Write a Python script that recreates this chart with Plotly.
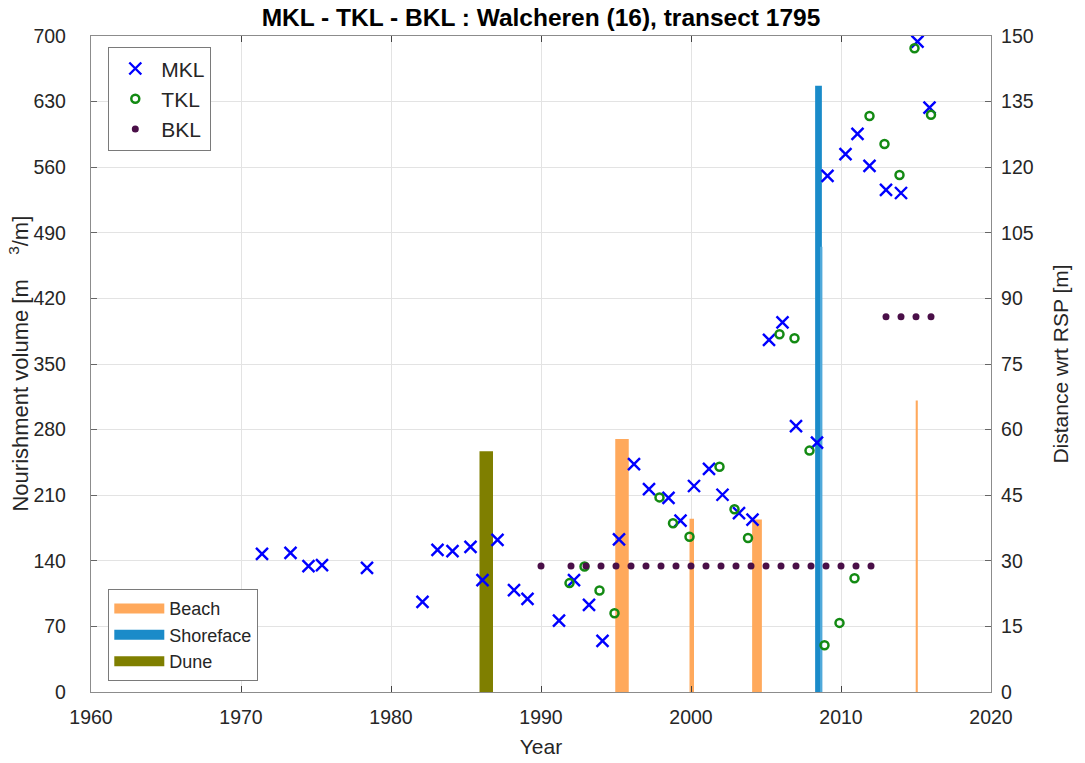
import plotly.graph_objects as go

# Coastline positions (distance wrt RSP, metres)
mkl_year = [1971.4, 1973.3, 1974.5, 1975.4, 1978.4, 1982.1, 1983.1, 1984.1, 1985.3, 1986.1,
            1987.1, 1988.2, 1989.1, 1991.2, 1992.2, 1993.2, 1994.1, 1995.2, 1996.2, 1997.2,
            1998.5, 1999.3, 2000.2, 2001.2, 2002.1, 2003.2, 2004.1, 2005.2, 2006.1, 2007.0,
            2008.4, 2009.1, 2010.3, 2011.1, 2011.9, 2013.0, 2014.0, 2015.1, 2015.9]
mkl_dist = [31.6, 31.8, 28.8, 29.0, 28.4, 20.6, 32.5, 32.2, 33.2, 25.6,
            34.8, 23.3, 21.3, 16.3, 25.6, 19.9, 11.7, 34.9, 52.1, 46.4,
            44.4, 39.2, 47.1, 51.0, 45.1, 40.9, 39.4, 80.5, 84.5, 60.8,
            57.0, 118.0, 123.0, 127.6, 120.3, 114.8, 114.1, 148.7, 133.6]

tkl_year = [1991.9, 1992.9, 1993.9, 1994.9, 1997.9, 1998.8, 1999.9, 2001.9, 2002.9, 2003.8,
            2005.9, 2006.9, 2007.9, 2008.9, 2009.9, 2010.9, 2011.9, 2012.9, 2013.9, 2014.9,
            2016.0]
tkl_dist = [24.9, 28.7, 23.2, 18.0, 44.5, 38.6, 35.5, 51.5, 41.8, 35.2,
            81.8, 80.9, 55.2, 10.7, 15.8, 26.0, 131.7, 125.3, 118.2, 147.2,
            132.0]

bkl_year = [1990, 1992, 1993, 1994, 1995, 1996, 1997, 1998, 1999, 2000, 2001, 2002,
            2003, 2004, 2005, 2006, 2007, 2008, 2009, 2010, 2011, 2012,
            2013, 2014, 2015, 2016]
bkl_dist = [28.8] * 22 + [85.8] * 4

# Nourishments (volume m3/m), centre year and duration in years
beach_year = [1995.4, 2000.05, 2004.4, 2015.05]
beach_vol = [270, 185, 184, 311]
beach_dur = [0.9, 0.3, 0.65, 0.14]

shore_year = [2008.5]
shore_vol = [647]
shore_dur = [0.45]
shore2_year = [2008.68]
shore2_vol = [475]
shore2_dur = [0.16]

dune_year = [1986.35]
dune_vol = [257]
dune_dur = [0.9]

BEACH = "#FFA95C"
SHORE = "#1A8BC9"
DUNE = "#7F7F00"
FONT = "Liberation Sans, Arial, sans-serif"
TXT = "#262626"
GRID = "#E3E3E3"
AX = "#8C8C8C"

fig = go.Figure()

# bars on the volume axis
fig.add_trace(go.Bar(x=beach_year, y=beach_vol, width=beach_dur, marker_color=BEACH,
                     marker_line_width=0, showlegend=False, name="Beach"))
fig.add_trace(go.Bar(x=shore_year, y=shore_vol, width=shore_dur, marker_color=SHORE,
                     marker_line_width=0, showlegend=False, name="Shoreface"))
fig.add_trace(go.Bar(x=shore2_year, y=shore2_vol, width=shore2_dur, marker_color="#4FA9DA",
                     marker_line_width=0, showlegend=False, name="Shoreface"))
fig.add_trace(go.Bar(x=dune_year, y=dune_vol, width=dune_dur, marker_color=DUNE,
                     marker_line_width=0, showlegend=False, name="Dune"))

# legend swatches for nourishment types
for nm, col in [("Beach", BEACH), ("Shoreface", SHORE), ("Dune", DUNE)]:
    fig.add_trace(go.Scatter(x=[None], y=[None], mode="lines", name=nm,
                             line=dict(color=col, width=17), legend="legend2"))

# coastline indicators on the distance axis
fig.add_trace(go.Scatter(x=mkl_year, y=mkl_dist, yaxis="y2", mode="markers", name="MKL",
                         marker=dict(symbol="x-thin", size=12, color="#0000FF",
                                     line=dict(color="#0000FF", width=2.4)),
                         cliponaxis=False, legend="legend"))
fig.add_trace(go.Scatter(x=tkl_year, y=tkl_dist, yaxis="y2", mode="markers", name="TKL",
                         marker=dict(symbol="circle-open", size=8, color="#138A13",
                                     line=dict(color="#138A13", width=2.5)),
                         cliponaxis=False, legend="legend"))
fig.add_trace(go.Scatter(x=bkl_year, y=bkl_dist, yaxis="y2", mode="markers", name="BKL",
                         marker=dict(symbol="circle", size=7, color="#4A0F48"),
                         cliponaxis=False, legend="legend"))

# left axis title placed close to its tick labels
fig.add_annotation(text="Nourishment volume [m&nbsp;&nbsp;&nbsp;&nbsp;<sup>3</sup>/m]",
                   xref="paper", yref="paper", x=-0.0805, y=0.5,
                   xanchor="center", yanchor="middle", textangle=-90,
                   showarrow=False, font=dict(family=FONT, size=22, color=TXT))

fig.update_layout(
    width=1085, height=763,
    margin=dict(l=91, r=94, t=36, b=71, autoexpand=False),
    paper_bgcolor="white", plot_bgcolor="white",
    font=dict(family=FONT, size=19.5, color=TXT),
    barmode="overlay",
    title=dict(text="<b>MKL - TKL - BKL : Walcheren (16), transect 1795</b>",
               x=0.5, xref="paper", xanchor="center", y=0.977, yanchor="middle",
               font=dict(family=FONT, size=24.5, color="#000000")),
    xaxis=dict(range=[1960, 2020], dtick=10, tick0=1960, showgrid=True, gridcolor=GRID,
               gridwidth=1, zeroline=False, showline=True, linecolor=AX, linewidth=1.3,
               mirror="ticks", ticks="inside", ticklen=6, tickcolor="#444",
               ticklabelstandoff=7, automargin=False,
               title=dict(text="Year", font=dict(size=21), standoff=12),
               tickfont=dict(size=19.5)),
    yaxis=dict(range=[0, 700], dtick=70, tick0=0, showgrid=True, gridcolor=GRID,
               zeroline=False, showline=True, linecolor=AX, linewidth=1.3,
               ticks="inside", ticklen=6, tickcolor="#666",
               ticklabelstandoff=20, automargin=False,
               tickfont=dict(size=19.5)),
    yaxis2=dict(range=[0, 150], dtick=15, tick0=0, overlaying="y", side="right",
                showgrid=False, zeroline=False, showline=True, linecolor=AX, linewidth=1.3,
                ticks="inside", ticklen=6, tickcolor="#666",
                ticklabelstandoff=5, automargin=False,
                title=dict(text="Distance wrt RSP [m]", font=dict(size=21), standoff=20),
                tickfont=dict(size=19.5)),
    legend=dict(x=0.019, y=0.983, xanchor="left", yanchor="top",
                bgcolor="white", bordercolor="#7A7A7A", borderwidth=1.2,
                font=dict(size=21, color=TXT), itemwidth=42,
                tracegroupgap=0, traceorder="normal"),
    legend2=dict(x=0.019, y=0.157, xanchor="left", yanchor="top",
                 bgcolor="white", bordercolor="#7A7A7A", borderwidth=1.2,
                 font=dict(size=18, color=TXT), itemwidth=50,
                 tracegroupgap=0, traceorder="normal"),
)

fig.write_html("out.html")
